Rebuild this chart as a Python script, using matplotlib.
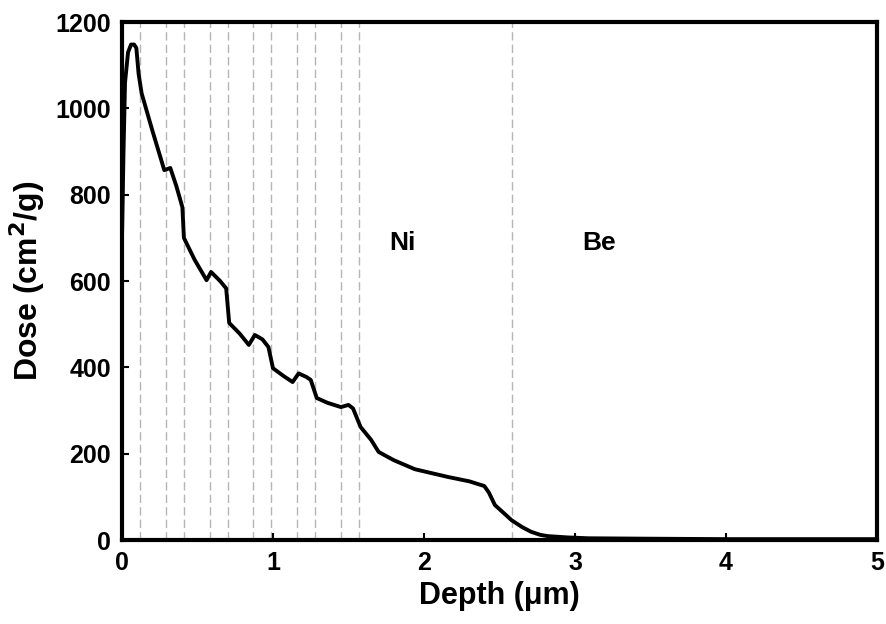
import matplotlib.pyplot as plt
import numpy as np

plt.rcParams['font.family'] = ['Liberation Sans', 'DejaVu Sans']
plt.rcParams['font.weight'] = 'bold'

# dose profile
depth = [0.0, 0.01, 0.02, 0.04, 0.06, 0.08, 0.095, 0.11, 0.13, 0.2, 0.28, 0.32,
         0.36, 0.40, 0.41, 0.48, 0.56, 0.59, 0.65, 0.69, 0.71, 0.78, 0.84, 0.88,
         0.93, 0.97, 1.0, 1.07, 1.13, 1.17, 1.22, 1.25, 1.29, 1.36, 1.45, 1.50,
         1.53, 1.58, 1.65, 1.70, 1.80, 1.94, 2.05, 2.16, 2.30, 2.40, 2.43, 2.47,
         2.53, 2.58, 2.65, 2.71, 2.77, 2.82, 2.95, 3.09, 3.5, 4.0, 4.5, 5.0]
dose = [700, 900, 1060, 1130, 1148, 1148, 1140, 1080, 1035, 950, 857, 862,
        820, 771, 700, 650, 602, 621, 600, 583, 503, 478, 452, 475,
        465, 447, 398, 380, 366, 386, 378, 371, 329, 318, 308, 313,
        305, 262, 232, 204, 185, 164, 155, 146, 136, 125, 110, 81,
        62, 46, 30, 19, 12, 9, 6, 4, 3, 2, 2, 2]

# layer boundaries (dashed lines)
layers = [0.12, 0.29, 0.41, 0.58, 0.70, 0.87, 0.99, 1.16, 1.28, 1.45, 1.57, 2.58]

fig = plt.figure(figsize=(8.86, 6.24), dpi=100)
ax = fig.add_axes([0.1377, 0.1346, 0.852, 0.83])

for xl in layers:
    ax.axvline(xl, color='#b5b5b5', lw=1.0, ls=(0, (6, 3)), zorder=1)

ax.plot(depth, dose, color='black', lw=2.8, zorder=3)

ax.text(1.86, 688, 'Ni', fontsize=19, fontweight='bold', ha='center', va='center')
ax.text(3.16, 688, 'Be', fontsize=19, fontweight='bold', ha='center', va='center')

ax.set_xlim(0, 5)
ax.set_ylim(0, 1200)
ax.set_xticks([0, 1, 2, 3, 4, 5])
ax.set_yticks(np.arange(0, 1201, 200))
ax.tick_params(direction='in', length=5, width=1.5, labelsize=18, pad=8)
for lab in ax.get_xticklabels() + ax.get_yticklabels():
    lab.set_fontweight('bold')
for sp in ax.spines.values():
    sp.set_linewidth(3)

ax.set_xlabel('Depth (\u03bcm)', fontsize=22, fontweight='bold', labelpad=4)
ax.set_ylabel('Dose (cm$^\\mathbf{2}$/g)', fontsize=23, fontweight='bold', labelpad=6)

fig.savefig('out.png', dpi=100)
